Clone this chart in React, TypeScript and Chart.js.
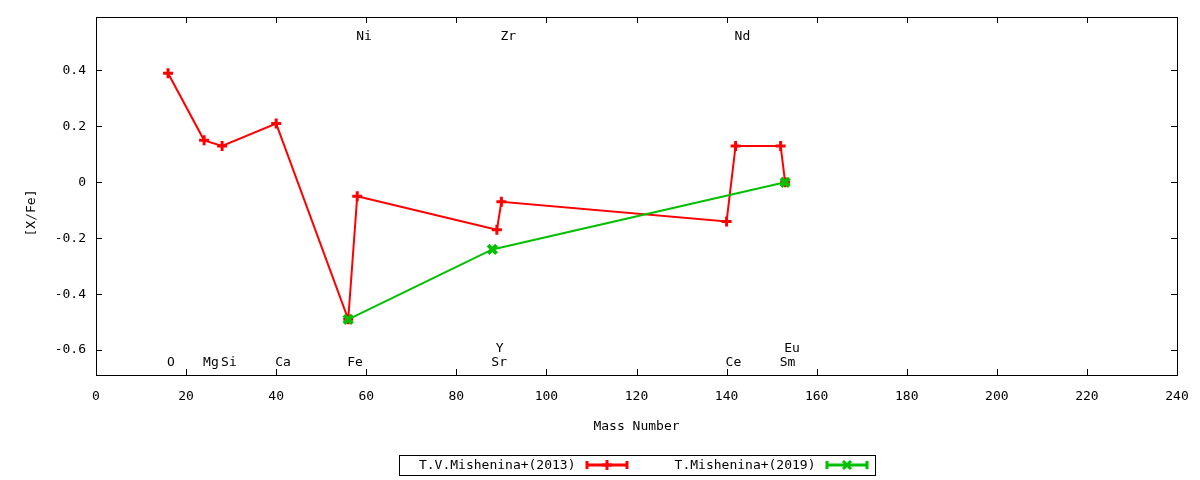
import { useEffect, useRef } from "react";
import { Chart, registerables } from "chart.js";

Chart.register(...registerables);

// T.V.Mishenina+(2013)
const redNames = ["O", "Mg", "Si", "Ca", "Fe", "Ni", "Y", "Zr", "Ce", "Nd", "Sm", "Eu"];
const redMass = [16, 24, 28, 40, 56, 58, 89, 90, 140, 142, 152, 153];
const redValues = [0.39, 0.15, 0.13, 0.21, -0.49, -0.05, -0.17, -0.07, -0.14, 0.13, 0.13, 0.0];

// T.Mishenina+(2019)
const greenNames = ["Fe", "Sr", "Eu"];
const greenMass = [56, 88, 153];
const greenValues = [-0.49, -0.24, 0.0];

// element labels written inside the plot
const labelNames = ["O", "Mg", "Si", "Ca", "Fe", "Ni", "Sr", "Y", "Zr", "Ce", "Nd", "Sm", "Eu"];
const labelMass = [16, 24, 28, 40, 56, 58, 88, 89, 90, 140, 142, 152, 153];
const labelLevel = [-0.645, -0.645, -0.645, -0.645, -0.645, 0.52, -0.645, -0.595, 0.52, -0.645, 0.52, -0.645, -0.595];

const xTicks = [0, 20, 40, 60, 80, 100, 120, 140, 160, 180, 200, 220, 240];
const yTicks = [-0.6, -0.4, -0.2, 0, 0.2, 0.4];
const yTickLabels = ["-0.6", "-0.4", "-0.2", "0", "0.2", "0.4"];

const legendLabels = ["T.V.Mishenina+(2013)", "T.Mishenina+(2019)"];

const RED = "#ff0000";
const GREEN = "#00c000";
const FONT = "DejaVu Sans Mono";

function toPoints(mass: number[], values: number[]) {
  return mass.map((m, i) => ({ x: m, y: values[i] }));
}

function drawMarker(ctx: CanvasRenderingContext2D, style: string, cx: number, cy: number) {
  ctx.beginPath();
  if (style === "cross") {
    ctx.moveTo(cx - 5, cy);
    ctx.lineTo(cx + 5, cy);
    ctx.moveTo(cx, cy - 5);
    ctx.lineTo(cx, cy + 5);
  } else {
    ctx.moveTo(cx - 4, cy - 4);
    ctx.lineTo(cx + 4, cy + 4);
    ctx.moveTo(cx - 4, cy + 4);
    ctx.lineTo(cx + 4, cy - 4);
  }
  ctx.stroke();
}

const overlay = {
  id: "overlay",
  afterDraw(chart: any) {
    const { ctx, chartArea } = chart;
    const { left, right, top, bottom } = chartArea;
    const x = chart.scales.x;
    const y = chart.scales.y;
    ctx.save();

    // frame + inward (mirrored) ticks
    ctx.strokeStyle = "#000";
    ctx.lineWidth = 1;
    ctx.strokeRect(Math.round(left) + 0.5, Math.round(top) + 0.5, Math.round(right - left), Math.round(bottom - top));
    ctx.beginPath();
    xTicks.forEach((v) => {
      const px = Math.round(x.getPixelForValue(v)) + 0.5;
      ctx.moveTo(px, bottom);
      ctx.lineTo(px, bottom - 6);
      ctx.moveTo(px, top);
      ctx.lineTo(px, top + 6);
    });
    yTicks.forEach((v) => {
      const py = Math.round(y.getPixelForValue(v)) + 0.5;
      ctx.moveTo(left, py);
      ctx.lineTo(left + 6, py);
      ctx.moveTo(right, py);
      ctx.lineTo(right - 6, py);
    });
    ctx.stroke();

    // element labels
    ctx.fillStyle = "#000";
    ctx.font = `13px "${FONT}"`;
    ctx.textAlign = "left";
    ctx.textBaseline = "middle";
    labelNames.forEach((n, i) => {
      ctx.fillText(n, x.getPixelForValue(labelMass[i]) - 1, y.getPixelForValue(labelLevel[i]));
    });

    // axis titles
    ctx.textAlign = "center";
    ctx.fillText("Mass Number", (left + right) / 2, bottom + 52);
    ctx.save();
    ctx.translate(32, (top + bottom) / 2 + 17);
    ctx.rotate(-Math.PI / 2);
    ctx.fillText("[X/Fe]", 0, 0);
    ctx.restore();

    // legend
    const cx = (left + right) / 2;
    const boxW = 476;
    const boxTop = bottom + 80;
    const boxH = 20;
    const bx = cx - boxW / 2;
    ctx.strokeRect(Math.round(bx) + 0.5, Math.round(boxTop) + 0.5, boxW, boxH);
    const ly = boxTop + boxH / 2;
    const entries = [
      { label: legendLabels[0], color: RED, marker: "cross", textRight: bx + 177 },
      { label: legendLabels[1], color: GREEN, marker: "crossRot", textRight: bx + 417 },
    ];
    entries.forEach((e) => {
      ctx.textAlign = "right";
      ctx.fillStyle = "#000";
      ctx.fillText(e.label, e.textRight, ly + 1);
      const s0 = e.textRight + 10;
      const s1 = s0 + 43;
      ctx.strokeStyle = e.color;
      ctx.lineWidth = 3;
      ctx.beginPath();
      ctx.moveTo(s0, ly);
      ctx.lineTo(s1, ly);
      ctx.moveTo(s0 + 1.5, ly - 4);
      ctx.lineTo(s0 + 1.5, ly + 4);
      ctx.moveTo(s1 - 1.5, ly - 4);
      ctx.lineTo(s1 - 1.5, ly + 4);
      ctx.stroke();
      drawMarker(ctx, e.marker, (s0 + s1) / 2, ly);
    });
    ctx.restore();
  },
};

export default function App() {
  const chartRef = useRef<HTMLCanvasElement | null>(null);

  useEffect(() => {
    if (!chartRef.current) return;
    const chart = new Chart(chartRef.current, {
      type: "scatter",
      data: {
        datasets: [
          {
            label: legendLabels[0],
            data: toPoints(redMass, redValues),
            showLine: true,
            borderColor: RED,
            backgroundColor: RED,
            borderWidth: 2,
            pointStyle: "cross",
            pointRadius: 5,
            pointBorderWidth: 3,
            order: 1,
          },
          {
            label: legendLabels[1],
            data: toPoints(greenMass, greenValues),
            showLine: true,
            borderColor: GREEN,
            backgroundColor: GREEN,
            borderWidth: 2,
            pointStyle: "crossRot",
            pointRadius: 6,
            pointBorderWidth: 4,
            order: 0,
          },
        ],
      },
      options: {
        animation: false,
        responsive: false,
        devicePixelRatio: 1,
        layout: { padding: { left: 0, top: 17, right: 23, bottom: 43 } },
        plugins: {
          legend: { display: false },
          tooltip: { enabled: false },
        },
        scales: {
          x: {
            type: "linear",
            min: 0,
            max: 240,
            grid: { display: false, drawTicks: false },
            border: { display: false },
            afterBuildTicks: (scale: any) => {
              scale.ticks = xTicks.map((v) => ({ value: v }));
            },
            afterFit: (scale: any) => {
              scale.height = 62;
              scale.paddingLeft = 0;
              scale.paddingRight = 0;
            },
            ticks: {
              color: "#000",
              padding: 14,
              maxRotation: 0,
              font: { family: FONT, size: 13 },
              callback: (v: any) => String(v),
            },
          },
          y: {
            type: "linear",
            min: -0.689,
            max: 0.591,
            grid: { display: false, drawTicks: false },
            border: { display: false },
            afterBuildTicks: (scale: any) => {
              scale.ticks = yTicks.map((v) => ({ value: v }));
            },
            afterFit: (scale: any) => {
              scale.width = 96;
              scale.paddingTop = 0;
              scale.paddingBottom = 0;
            },
            ticks: {
              color: "#000",
              padding: 10,
              font: { family: FONT, size: 13 },
              callback: (v: any) => {
                const i = yTicks.findIndex((t) => Math.abs(t - v) < 1e-9);
                return i >= 0 ? yTickLabels[i] : "";
              },
            },
          },
        },
      },
      plugins: [overlay],
    });
    return () => chart.destroy();
  }, []);

  return (
    <div style={{ position: "absolute", left: 0, top: 0, width: 1200, height: 480, background: "#fff" }}>
      <canvas ref={chartRef} width={1200} height={480} />
    </div>
  );
}

// element names kept for reference of each series
export const seriesElements = { redNames, greenNames };
